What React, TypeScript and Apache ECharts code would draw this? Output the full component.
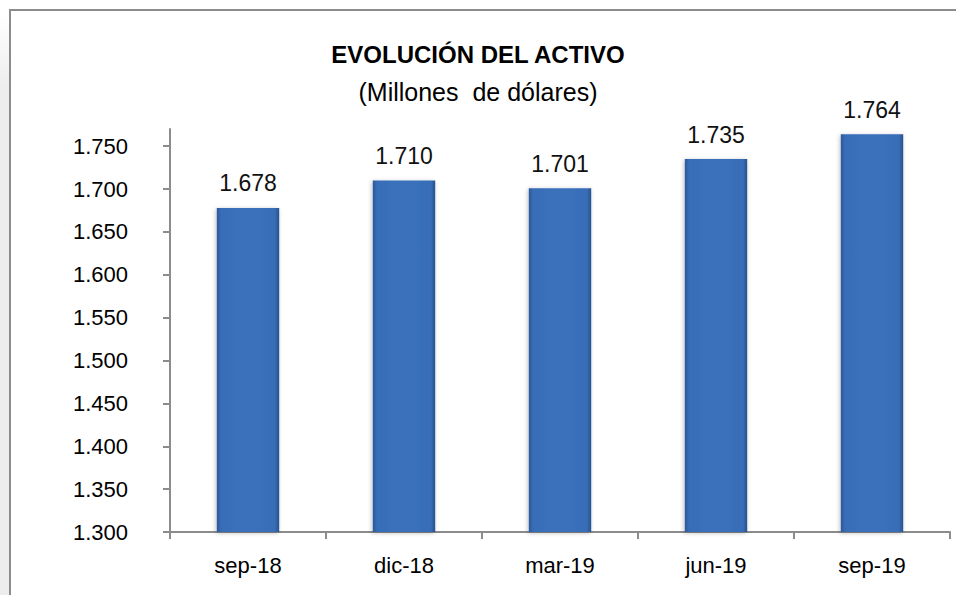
import React, { useEffect, useRef } from "react";
import * as echarts from "echarts";

const categories = ["sep-18", "dic-18", "mar-19", "jun-19", "sep-19"];
const activo = [1678, 1710, 1701, 1735, 1764];
const yTicks = [1300, 1350, 1400, 1450, 1500, 1550, 1600, 1650, 1700, 1750];
const titleText = "EVOLUCIÓN DEL ACTIVO";
const subtitleText = "(Millones  de dólares)";

const fmt = (v: number) => {
  const s = Math.round(v).toString();
  return s.replace(/\B(?=(\d{3})+(?!\d))/g, ".");
};

export default function App() {
  const ref = useRef<HTMLDivElement>(null);
  useEffect(() => {
    if (!ref.current) return;
    const chart = echarts.init(ref.current, null, { renderer: "svg" });
    const font = "'Liberation Sans', Arial, sans-serif";
    chart.setOption({
      animation: false,
      backgroundColor: "#ffffff",
      textStyle: { fontFamily: font },
      title: [
        {
          text: titleText,
          left: "center",
          top: 37,
          textStyle: { fontFamily: font, fontSize: 24, fontWeight: "bold", color: "#000" },
        },
        {
          text: subtitleText,
          left: "center",
          top: 74,
          textStyle: { fontFamily: font, fontSize: 25, fontWeight: "normal", color: "#000" },
        },
      ],
      grid: { left: 170, right: 6, top: 129, bottom: 63 },
      xAxis: {
        type: "category",
        data: categories,
        axisLine: { lineStyle: { color: "#8c8c8c", width: 2 } },
        axisTick: { show: true, length: 7, lineStyle: { color: "#8c8c8c", width: 2 } },
        axisLabel: { fontFamily: font, fontSize: 22, color: "#000", margin: 22 },
      },
      yAxis: {
        type: "value",
        min: 1300,
        max: 1770,
        axisLine: { show: true, lineStyle: { color: "#8c8c8c", width: 2 } },
        axisTick: { show: true, length: 7, lineStyle: { color: "#8c8c8c", width: 2 }, customValues: yTicks },
        axisLabel: {
          fontFamily: font,
          fontSize: 22,
          color: "#000",
          margin: 42,
          customValues: yTicks,
          formatter: (v: number) => fmt(v),
        },
        splitLine: { show: false },
      },
      graphic: [
        {
          type: "rect",
          shape: { x: 0, y: 14, width: 9, height: 600 },
          style: {
            fill: new echarts.graphic.LinearGradient(0, 0, 0, 1, [
              { offset: 0, color: "#ffffff" },
              { offset: 0.12, color: "#ededed" },
              { offset: 1, color: "#ededed" },
            ]),
          },
          silent: true,
          z: -10,
        },
        {
          type: "rect",
          shape: { x: 10, y: 10, width: 1000, height: 700 },
          style: { fill: "none", stroke: "#8c8c8c", lineWidth: 2 },
          silent: true,
          z: -5,
        },
      ],
      series: [
        {
          type: "bar",
          data: activo,
          barWidth: "40%",
          itemStyle: {
            color: new echarts.graphic.LinearGradient(0, 0, 1, 0, [
              { offset: 0, color: "#2b5898" },
              { offset: 0.07, color: "#386db7" },
              { offset: 0.5, color: "#3b71bc" },
              { offset: 0.93, color: "#386db7" },
              { offset: 1, color: "#27528c" },
            ]),
            shadowColor: "rgba(0,0,0,0.25)",
            shadowBlur: 4,
            shadowOffsetX: -1,
            shadowOffsetY: 1,
          },
          label: {
            show: true,
            position: "top",
            distance: 13,
            fontFamily: font,
            fontSize: 23,
            color: "#111",
            formatter: (p: any) => fmt(p.value),
          },
        },
      ],
    });
    return () => chart.dispose();
  }, []);
  return <div ref={ref} style={{ width: 956, height: 595, position: "absolute", left: 0, top: 0 }} />;
}
